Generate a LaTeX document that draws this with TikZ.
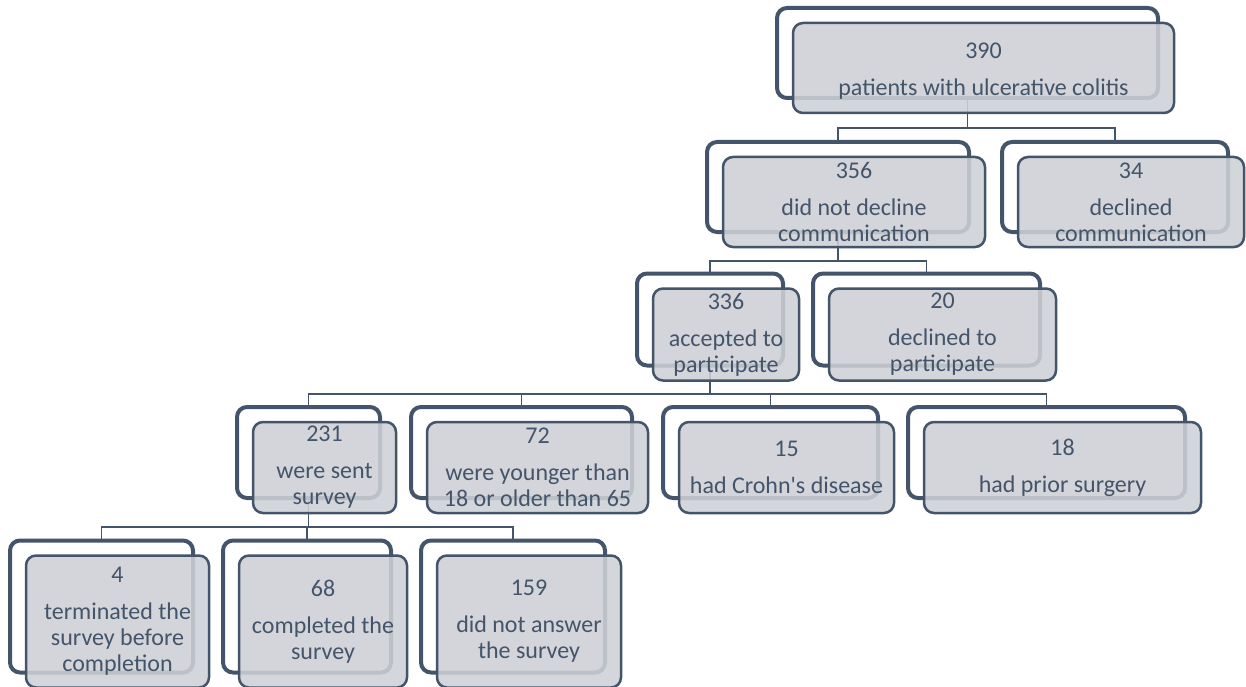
\documentclass[tikz,border=0pt]{standalone}
\usepackage{fontspec}
\setmainfont{Carlito}[Ligatures=TeXOff]
\definecolor{slate}{HTML}{44546A}
\definecolor{boxgray}{HTML}{CDD0D5}
\tikzset{
  backbox/.style={draw=slate, line width=4pt, fill=white, rounded corners=10pt,
    inner sep=0pt, outer sep=0pt, minimum height=#1},
  backbox/.default=90pt,
  frontbox/.style={draw=slate, line width=2.5pt, fill=boxgray, fill opacity=0.88,
    text opacity=1, rounded corners=10pt, inner sep=0pt, outer sep=0pt,
    align=center, text=slate, font=\fontsize{24}{26}\selectfont, minimum height=#1},
  frontbox/.default=90pt,
  link/.style={draw=slate, line width=1.6pt}
}
\begin{document}
\begin{tikzpicture}[x=1pt,y=-1pt]
\useasboundingbox (0,0) rectangle (1246,687);
% back boxes
\node[backbox, minimum width=381pt] (A) at (967.5,53) {};
\node[backbox, minimum width=262pt] (B) at (838,187) {};
\node[backbox, minimum width=226pt] (C) at (1115,187) {};
\node[backbox=92pt, minimum width=146pt] (D) at (710,319.5) {};
\node[backbox=92pt, minimum width=227pt] (E) at (926.5,319.5) {};
\node[backbox=91pt, minimum width=143pt] (F) at (308.5,452.5) {};
\node[backbox=91pt, minimum width=221pt] (G) at (521.5,452.5) {};
\node[backbox=91pt, minimum width=215pt] (H) at (770.5,452.5) {};
\node[backbox=91pt, minimum width=277pt] (I) at (1046.5,452.5) {};
\node[backbox=132pt, minimum width=183pt] (J) at (101.5,606.5) {};
\node[backbox=132pt, minimum width=168pt] (K) at (307,606.5) {};
\node[backbox=132pt, minimum width=184pt] (L) at (513,606.5) {};
% connectors
\coordinate (busA) at (967.5,128);
\coordinate (busB) at (838,261);
\coordinate (busD) at (710,394);
\coordinate (busF) at (308.5,527);
\draw[link] (A.south) -- (busA);
\draw[link] (busA) -| (B.north);
\draw[link] (busA) -| (C.north);
\draw[link] (B.south) -- (busB);
\draw[link] (busB) -| (D.north);
\draw[link] (busB) -| (E.north);
\draw[link] (D.south) -- (busD);
\draw[link] (busD) -| (F.north);
\draw[link] (busD) -| (G.north);
\draw[link] (busD) -| (H.north);
\draw[link] (busD) -| (I.north);
\draw[link] (F.south) -- (busF);
\draw[link] (busF) -| (J.north);
\draw[link] (busF) -| (K.north);
\draw[link] (busF) -| (L.north);
% front boxes
\node[frontbox, minimum width=381pt] (Af) at (983.5,68) {\rule{0pt}{22pt}390\\[11pt]patients with ulcerative colitis};
\node[frontbox, minimum width=262pt] (Bf) at (854,202) {356\\[11pt]did not decline\\communication};
\node[frontbox, minimum width=226pt] (Cf) at (1131,202) {34\\[11pt]declined\\communication};
\node[frontbox=92pt, minimum width=146pt] (Df) at (726,334.5) {336\\[11pt]accepted to\\participate};
\node[frontbox=92pt, minimum width=227pt] (Ef) at (942.5,334.5) {20\\[11pt]declined to\\participate};
\node[frontbox=91pt, minimum width=143pt] (Ff) at (324.5,467.5) {231\\[11pt]were sent\\survey};
\node[frontbox=91pt, minimum width=221pt] (Gf) at (537.5,467.5) {72\\[11pt]were younger than\\18 or older than 65};
\node[frontbox=91pt, minimum width=215pt] (Hf) at (786.5,467.5) {15\\[11pt]had Crohn's disease};
\node[frontbox=91pt, minimum width=277pt] (If) at (1062.5,467.5) {18\\[11pt]had prior surgery};
\node[frontbox=132pt, minimum width=183pt] (Jf) at (117.5,621.5) {4\\[11pt]terminated the\\survey before\\completion};
\node[frontbox=132pt, minimum width=168pt] (Kf) at (323,621.5) {68\\[11pt]completed the\\survey};
\node[frontbox=132pt, minimum width=184pt] (Lf) at (529,621.5) {159\\[11pt]did not answer\\the survey};
\end{tikzpicture}
\end{document}
